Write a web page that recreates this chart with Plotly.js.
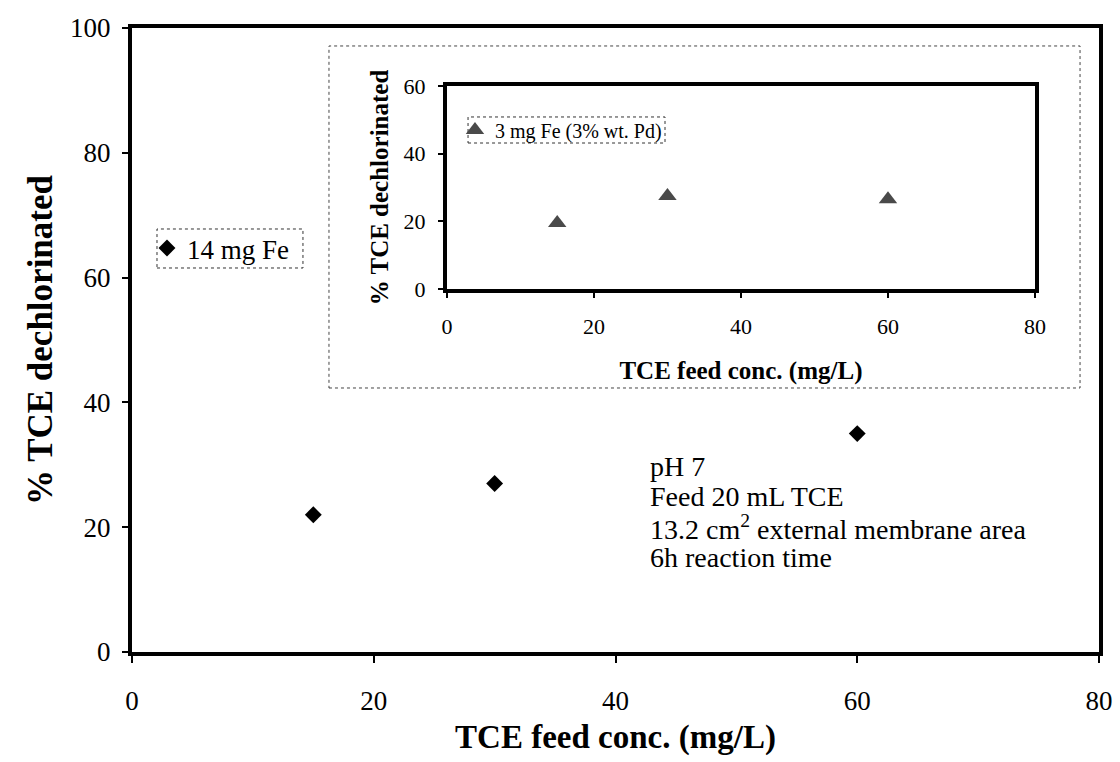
<!DOCTYPE html>
<html>
<head>
<meta charset="utf-8">
<script src="https://cdn.plot.ly/plotly-3.0.1.min.js"></script>
<style>html,body{margin:0;padding:0;background:#fff;}#chart{width:1120px;height:762px;}</style>
</head>
<body>
<div id="chart"></div>
<script>
// Main chart data: 14 mg Fe
var feedConc = [15, 30, 60];
var dechlor14Fe = [22, 27, 35];
// Inset data: 3 mg Fe (3% wt. Pd)
var feedConcInset = [15, 30, 60];
var dechlorPd = [19.5, 27.5, 26.5];
var mainXTicks = [0, 20, 40, 60, 80];
var mainYTicks = [0, 20, 40, 60, 80, 100];
var insetXTicks = [0, 20, 40, 60, 80];
var insetYTicks = [0, 20, 40, 60];
var noteLines = ["pH 7", "Feed 20 mL TCE", "13.2 cm<sup>2</sup> external membrane area", "6h reaction time"];

var FONT = 'Liberation Serif, Times New Roman, serif';

var traces = [
  {
    x: feedConc, y: dechlor14Fe, type: 'scatter', mode: 'markers',
    name: '14 mg Fe', legend: 'legend',
    marker: {symbol: 'diamond', size: 13, color: '#000', line: {width: 0}},
    xaxis: 'x', yaxis: 'y'
  },
  {
    x: feedConcInset, y: dechlorPd, type: 'scatter', mode: 'markers',
    name: '3 mg Fe (3% wt. Pd)', legend: 'legend2',
    marker: {symbol: 'triangle-up', size: 16, color: '#4a4a4a', line: {width: 0}},
    xaxis: 'x2', yaxis: 'y2'
  }
];

function axisBase() {
  return {
    showline: true, linecolor: '#000', linewidth: 4, mirror: true,
    ticks: 'outside', tickcolor: '#000', tickwidth: 2,
    showgrid: false, zeroline: false, fixedrange: true
  };
}

var xaxis = Object.assign(axisBase(), {
  range: [0, 80], tickvals: mainXTicks, ticklen: 7,
  tickfont: {family: FONT, size: 27, color: '#000'}, ticklabelstandoff: 15,
  title: {text: 'TCE feed conc. (mg/L)', font: {family: FONT, size: 33, color: '#000', weight: 'bold'}, standoff: 10}
});
var yaxis = Object.assign(axisBase(), {
  range: [0, 100], tickvals: mainYTicks, ticklen: 6,
  tickfont: {family: FONT, size: 27, color: '#000'}, ticklabelstandoff: 6,
  title: {text: '% TCE dechlorinated', font: {family: FONT, size: 35, color: '#000', weight: 'bold'}, standoff: 8}
});
var xaxis2 = Object.assign(axisBase(), {
  domain: [0.3257, 0.9338], anchor: 'y2',
  range: [0, 80], tickvals: insetXTicks, ticklen: 5,
  tickfont: {family: FONT, size: 22, color: '#000'}, ticklabelstandoff: 10,
  title: {text: 'TCE feed conc. (mg/L)', font: {family: FONT, size: 25, color: '#000', weight: 'bold'}, standoff: 24}
});
var yaxis2 = Object.assign(axisBase(), {
  domain: [0.5817, 0.9071], anchor: 'x2',
  range: [0, 60], tickvals: insetYTicks, ticklen: 5,
  tickfont: {family: FONT, size: 22, color: '#000'}, ticklabelstandoff: 8,
  title: {text: '% TCE dechlorinated', font: {family: FONT, size: 25, color: '#000', weight: 'bold'}, standoff: 9}
});

var noteY = [0.2965, 0.2484, 0.2003, 0.1522];
var annotations = noteLines.map(function (t, i) {
  return {
    text: t, xref: 'paper', yref: 'paper', x: 0.5336, y: noteY[i],
    xanchor: 'left', yanchor: 'middle', showarrow: false, align: 'left',
    font: {family: FONT, size: 28, color: '#000'}
  };
});

var shapes = [
  // dotted frame around the inset
  {type: 'rect', xref: 'paper', yref: 'paper', x0: 0.2037, x1: 0.9804, y0: 0.4231, y1: 0.9712,
   line: {color: '#444', width: 1, dash: 'dot'}, fillcolor: 'rgba(0,0,0,0)', layer: 'below'},
  // dashed box around main legend
  {type: 'rect', xref: 'paper', yref: 'paper', x0: 0.02585, x1: 0.1768, y0: 0.6154, y1: 0.6779,
   line: {color: '#333', width: 1, dash: 'dot'}, fillcolor: 'rgba(0,0,0,0)'},
  // dashed box around inset legend
  {type: 'rect', xref: 'paper', yref: 'paper', x0: 0.3475, x1: 0.5512, y0: 0.8157, y1: 0.8574,
   line: {color: '#333', width: 1, dash: 'dot'}, fillcolor: 'rgba(0,0,0,0)'}
];

var layout = {
  width: 1120, height: 762,
  margin: {l: 132, r: 21, t: 28, b: 110},
  paper_bgcolor: '#fff', plot_bgcolor: '#fff',
  font: {family: FONT, color: '#000'},
  xaxis: xaxis, yaxis: yaxis, xaxis2: xaxis2, yaxis2: yaxis2,
  showlegend: true,
  legend: {x: 0.0155, y: 0.6466, xanchor: 'left', yanchor: 'middle', bgcolor: 'rgba(0,0,0,0)', borderwidth: 0,
           font: {family: FONT, size: 27, color: '#000'}},
  legend2: {x: 0.334, y: 0.8365, xanchor: 'left', yanchor: 'middle', bgcolor: 'rgba(0,0,0,0)', borderwidth: 0,
            font: {family: FONT, size: 20, color: '#000'}},
  annotations: annotations,
  shapes: shapes
};

Plotly.newPlot('chart', traces, layout, {displayModeBar: false, staticPlot: true});
</script>
</body>
</html>
